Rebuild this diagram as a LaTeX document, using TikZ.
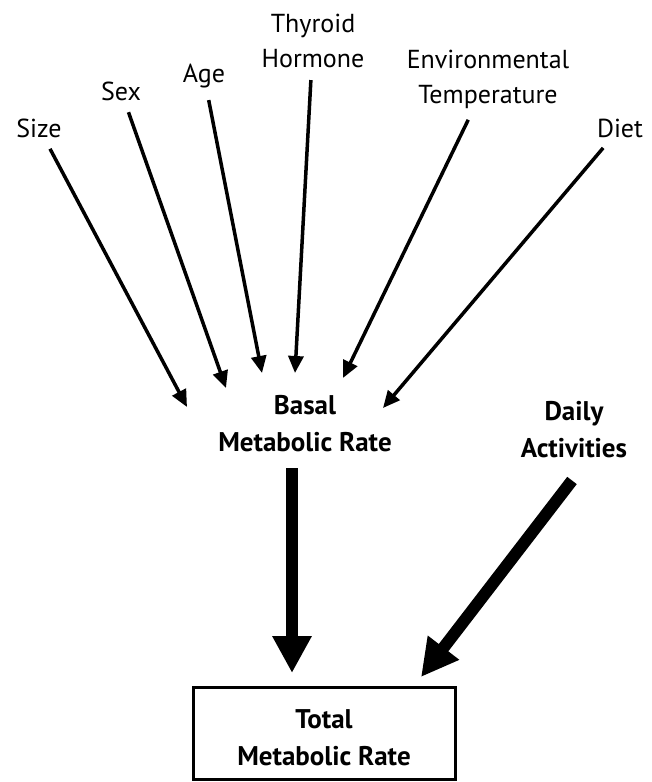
\documentclass[tikz,border=0pt]{standalone}
\usepackage{fontspec}
\setmainfont{PT Sans}
\usetikzlibrary{arrows.meta}

\begin{document}
\begin{tikzpicture}[x=1pt, y=-1pt,
  factor/.style={font=\fontsize{26}{35}\selectfont, align=center, inner sep=5pt},
  rate/.style={font=\fontsize{27}{37}\selectfont\bfseries, align=center, inner sep=5pt},
  arrow/.style={-{Triangle[length=17pt, width=15pt]}, line width=3.5pt, shorten <=7pt},
  bigarrow/.style={-{Triangle[length=37pt, width=37pt]}, line width=12pt}]
\useasboundingbox (0,0) rectangle (651,782);

% what sets the basal rate
\node[factor] (size) at (39,128) {Size};
\node[factor] (sex) at (121,91) {Sex};
\node[factor] (age) at (204,76) {Age};
\node[factor] (thyroid) at (313,41) {Thyroid\\ Hormone};
\node[factor] (envtemp) at (488,79) {Environmental\\ Temperature};
\node[factor] (diet) at (620,128) {Diet};

\node[rate] (bmr) at (305,424) {Basal\\ Metabolic Rate};
\node[rate] (daily) at (574,430) {Daily\\ Activities};
\node[rate] (tmr) at (324,738) {Total\\ Metabolic Rate};
\draw[line width=3pt] (tmr.center) ++(-131,-51) rectangle ++(262,92);

% arrow tips
\coordinate (tsize) at (187,407);
\coordinate (tsex) at (226,388);
\coordinate (tage) at (262,373);
\coordinate (tthyroid) at (295,373);
\coordinate (tenvtemp) at (343,378);
\coordinate (tdiet) at (383,408);
\coordinate (tbmr) at (292,673);
\coordinate (tdaily) at (421,677);

\draw[arrow] (size) -- (tsize);
\draw[arrow] (sex) -- (tsex);
\draw[arrow] (age) -- (tage);
\draw[arrow] (thyroid) -- (tthyroid);
\draw[arrow] (envtemp) -- (tenvtemp);
\draw[arrow] (diet) -- (tdiet);

\draw[bigarrow] (bmr.south -| tbmr) ++(0,11) -- (tbmr);
\draw[bigarrow] ([shift={(-2,17)}]daily.south) -- (tdaily);
\end{tikzpicture}
\end{document}
